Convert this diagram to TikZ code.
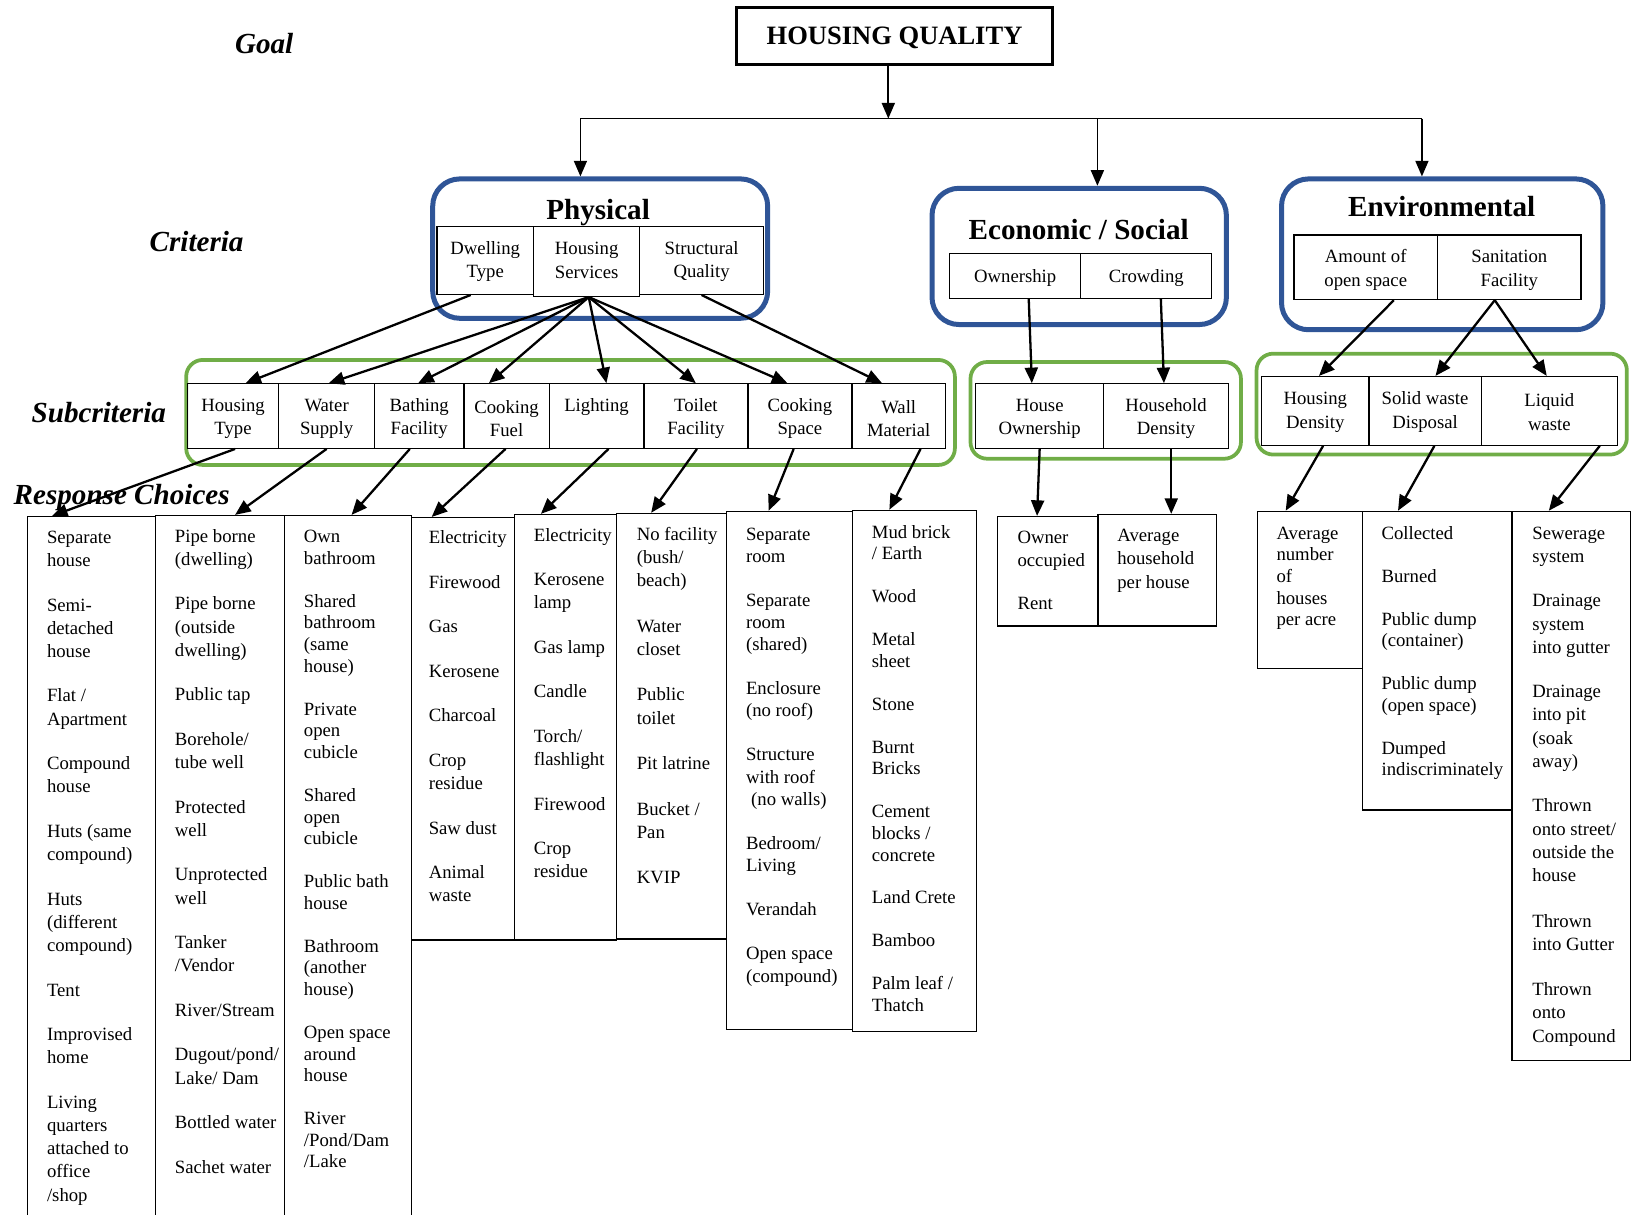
\documentclass[tikz,border=0pt]{standalone}
\usepackage{fontspec}
\setmainfont{Liberation Serif}
\usetikzlibrary{arrows.meta}

\definecolor{critblue}{RGB}{47,85,151}
\definecolor{subgreen}{RGB}{112,173,71}

\begin{document}
\begin{tikzpicture}[x=1pt,y=-1pt,
  every node/.style={inner sep=0pt},
  body/.style={font=\fontsize{18}{22.3}\selectfont},
  tight/.style={font=\fontsize{18}{20.8}\selectfont},
  level/.style={font=\fontsize{28}{32}\selectfont\bfseries\itshape},
  group/.style={font=\fontsize{28}{32}\selectfont\bfseries},
  critbox/.style={draw=critblue, line width=4.8pt, rounded corners=26pt},
  subbox/.style={draw=subgreen, line width=3.6pt, rounded corners=16pt},
  cell/.style={body, draw, line width=1.2pt, align=center, text height=40pt},
  rbox/.style={draw, line width=1.3pt, anchor=north west},
  rtext/.style={body, align=left, anchor=north west},
  arr/.style={-{Triangle[length=15pt,width=12.5pt]}, line width=2.2pt},
]
  \useasboundingbox (0,0) rectangle (1568,1168);

  % Level labels on the left
  \node[level] (lgoal) at (254,42) {Goal};
  \node[level] (lcrit) at (189,232) {Criteria};
  \node[level] (lsub) at (95,397) {Subcriteria};
  \node[level] (lresp) at (117,478) {Response Choices};

  % Goal box and bus line
  \node[draw, line width=3.2pt, minimum width=304pt, minimum height=55pt, text height=21pt,
    font=\fontsize{25.5}{30}\selectfont\bfseries] (goal) at (860,34.5) {HOUSING QUALITY};
  \coordinate (bus) at (854,114);
  \coordinate (busP) at (558,114);
  \coordinate (busE) at (1055,114);
  \coordinate (busV) at (1367,114);
  \draw[arr, line width=1.6pt] (goal.south -| bus) -- (bus);
  \draw[line width=1.6pt] (busP) -- (busV);

  % Criteria: Physical
  \node[critbox, minimum width=322pt, minimum height=134pt] (phys) at (577,239) {};
  \node[group] (physT) at (575,204) {Physical};
  \node[cell, text height=37pt, minimum width=93pt, minimum height=65pt] (dt) at (466.5,250.5) {Dwelling\\Type};
  \node[cell, text height=32pt, minimum width=102pt, minimum height=67pt] (hs) at (564,251.5) {Housing\\Services};
  \node[cell, text height=37pt, minimum width=119pt, minimum height=65pt] (sq) at (674.5,250.5) {Structural\\Quality};

  % Criteria: Economic / Social
  \node[critbox, minimum width=283pt, minimum height=131pt] (econ) at (1037.5,246.5) {};
  \node[group] (econT) at (1037,220.5) {Economic / Social};
  \node[cell, text height=16.5pt, minimum width=126pt, minimum height=43pt] (ow) at (976,265.5) {Ownership};
  \node[cell, text height=16.5pt, minimum width=126pt, minimum height=43pt] (cr) at (1102,265.5) {Crowding};

  % Criteria: Environmental
  \node[critbox, minimum width=309pt, minimum height=145pt] (env) at (1386.5,244.5) {};
  \node[group] (envT) at (1386,198.5) {Environmental};
  \node[cell, minimum width=138pt, minimum height=62pt] (ao) at (1313,257) {Amount of\\open space};
  \node[cell, minimum width=138pt, minimum height=62pt] (sf) at (1451,257) {Sanitation\\Facility};

  \draw[arr, line width=1.6pt] (busP) -- (busP |- phys.north);
  \draw[arr, line width=1.6pt] (busE) -- (busE |- econ.north);
  \draw[arr, line width=1.6pt] (busV) -- (busV |- env.north);

  % Subcriteria groups
  \node[subbox, minimum width=739pt, minimum height=101pt] (g1) at (548.5,396.5) {};
  \node[subbox, minimum width=260pt, minimum height=93pt] (g2) at (1063,394.5) {};
  \node[subbox, minimum width=356pt, minimum height=97pt] (g3) at (1386,388.5) {};

  \node[cell, minimum width=88pt, minimum height=62pt] (st1) at (224,400) {Housing\\Type};
  \node[cell, minimum width=92pt, minimum height=62pt] (st2) at (314,400) {Water\\Supply};
  \node[cell, minimum width=86pt, minimum height=62pt] (st3) at (403,400) {Bathing\\Facility};
  \node[cell, minimum width=82pt, minimum height=62pt] (st4) at (487,400) {Cooking\\Fuel};
  \node[cell, text height=36pt, minimum width=91pt, minimum height=62pt] (st5) at (573.5,400) {Lighting\\\phantom{X}};
  \node[cell, minimum width=100pt, minimum height=62pt] (st6) at (669,400) {Toilet\\Facility};
  \node[cell, minimum width=100pt, minimum height=62pt] (st7) at (769,400) {Cooking\\Space};
  \node[cell, minimum width=90pt, minimum height=62pt] (st8) at (864,400) {Wall\\Material};

  \node[cell, minimum width=123pt, minimum height=62pt] (ho) at (999.5,400) {House\\Ownership};
  \node[cell, minimum width=120pt, minimum height=62pt] (hd) at (1121,400) {Household\\Density};

  \node[cell, text height=37pt, minimum width=103pt, minimum height=66pt] (hdn) at (1264.5,395) {Housing\\Density};
  \node[cell, text height=37pt, minimum width=108pt, minimum height=66pt] (sw) at (1370,395) {Solid waste\\Disposal};
  \node[cell, text height=37pt, minimum width=131pt, minimum height=66pt] (lw) at (1489.5,395) {Liquid\\waste};

  % Criteria to subcriteria
  \draw[arr] ([xshift=-14pt]dt.south) -- ([xshift=12pt]st1.north);
  \foreach \t/\d in {st2/2, st3/-1, st4/-17, st5/9.5, st6/0, st7/-12}
    \draw[arr] ([xshift=2pt]hs.south) -- ([xshift=\d pt]\t.north);
  \draw[arr] (sq.south) -- ([xshift=-16pt]st8.north);
  \draw[arr] ([xshift=13pt]ow.south) -- ([xshift=-7.5pt]ho.north);
  \draw[arr] ([xshift=14pt]cr.south) -- ([xshift=-2pt]hd.north);
  \draw[arr] ([xshift=27pt]ao.south) -- ([xshift=3.5pt]hdn.north);
  \draw[arr] ([xshift=-14pt]sf.south) -- ([xshift=10pt]sw.north);
  \draw[arr] ([xshift=-14pt]sf.south) -- ([xshift=-2.5pt]lw.north);

  % Response choice boxes
  \node[rbox, minimum width=123pt, minimum height=700pt] (rc1) at (26,496) {};
  \node[rbox, minimum width=124pt, minimum height=700pt] (rc2) at (149,495) {};
  \node[rbox, minimum width=122pt, minimum height=700pt] (rc3) at (273,495) {};
  \node[rbox, minimum width=99pt, minimum height=406pt] (rc4) at (395,497) {};
  \node[rbox, minimum width=98pt, minimum height=409pt] (rc5) at (494,494) {};
  \node[rbox, minimum width=106pt, minimum height=409pt] (rc6) at (592,493) {};
  \node[rbox, minimum width=121pt, minimum height=498pt] (rc7) at (698,491) {};
  \node[rbox, minimum width=119pt, minimum height=501pt] (rc8) at (819,490) {};
  \node[rbox, minimum width=97pt, minimum height=105pt] (rc9) at (958,496) {};
  \node[rbox, minimum width=114pt, minimum height=107pt] (rc10) at (1055,494) {};
  \node[rbox, minimum width=101pt, minimum height=151pt] (rc11) at (1208,491) {};
  \node[rbox, minimum width=144pt, minimum height=287pt] (rc12) at (1309,491) {};
  \node[rbox, minimum width=114pt, minimum height=528pt] (rc13) at (1453,491) {};

  % Response choice texts
  \node[rtext] (rc1t) at ([xshift=19pt,yshift=-10.5pt]rc1.north west)
    {\strut Separate\\house\\[20.5pt]Semi-\\detached\\house\\[20.5pt]Flat /\\Apartment\\[20.5pt]Compound\\house\\[20.5pt]Huts (same\\compound)\\[20.5pt]Huts\\(different\\compound)\\[20.5pt]Tent\\[20.5pt]Improvised\\home\\[20.5pt]Living\\quarters\\attached to\\office\\/shop};
  \node[rtext] (rc2t) at ([xshift=19pt,yshift=-10.5pt]rc2.north west)
    {\strut Pipe borne\\(dwelling)\\[20.5pt]Pipe borne\\(outside\\dwelling)\\[20.5pt]Public tap\\[20.5pt]Borehole/\\tube well\\[20.5pt]Protected\\well\\[20.5pt]Unprotected\\well\\[20.5pt]Tanker\\/Vendor\\[20.5pt]River/Stream\\[20.5pt]Dugout/pond/\\Lake/ Dam\\[20.5pt]Bottled water\\[20.5pt]Sachet water};
  \node[rtext, tight] (rc3t) at ([xshift=19pt,yshift=-12pt]rc3.north west)
    {\strut Own\\bathroom\\[20.5pt]Shared\\bathroom\\(same\\house)\\[20.5pt]Private\\open\\cubicle\\[20.5pt]Shared\\open\\cubicle\\[20.5pt]Public bath\\house\\[20.5pt]Bathroom\\(another\\house)\\[20.5pt]Open space\\around\\house\\[20.5pt]River\\/Pond/Dam\\/Lake};
  \node[rtext] (rc4t) at ([xshift=17pt,yshift=-10pt]rc4.north west)
    {\strut Electricity\\[20.5pt]Firewood\\[20.5pt]Gas\\[20.5pt]Kerosene\\[20.5pt]Charcoal\\[20.5pt]Crop\\residue\\[20.5pt]Saw dust\\[20.5pt]Animal\\waste};
  \node[rtext] (rc5t) at ([xshift=19pt,yshift=-10.5pt]rc5.north west)
    {\strut Electricity\\[20.5pt]Kerosene\\lamp\\[20.5pt]Gas lamp\\[20.5pt]Candle\\[20.5pt]Torch/\\flashlight\\[20.5pt]Firewood\\[20.5pt]Crop\\residue};
  \node[rtext] (rc6t) at ([xshift=20pt,yshift=-10.5pt]rc6.north west)
    {\strut No facility\\(bush/\\beach)\\[21.5pt]Water\\closet\\[21.5pt]Public\\toilet\\[21.5pt]Pit latrine\\[21.5pt]Bucket /\\Pan\\[21.5pt]KVIP};
  \node[rtext, font=\fontsize{18}{21.5}\selectfont] (rc7t) at ([xshift=19pt,yshift=-13pt]rc7.north west)
    {\strut Separate\\room\\[20.5pt]Separate\\room\\(shared)\\[20.5pt]Enclosure\\(no roof)\\[20.5pt]Structure\\with roof\\\hspace*{5pt}(no walls)\\[20.5pt]Bedroom/\\Living\\[20.5pt]Verandah\\[21.5pt]Open space\\(compound)};
  \node[rtext, tight] (rc8t) at ([xshift=19pt,yshift=-12.5pt]rc8.north west)
    {\strut Mud brick\\/ Earth\\[20.5pt]Wood\\[20.5pt]Metal\\sheet\\[20.5pt]Stone\\[20.5pt]Burnt\\Bricks\\[20.5pt]Cement\\blocks /\\concrete\\[20.5pt]Land Crete\\[20.5pt]Bamboo\\[20.5pt]Palm leaf /\\Thatch};
  \node[rtext] (rc9t) at ([xshift=20pt,yshift=-10.5pt]rc9.north west)
    {\strut Owner\\occupied\\[19pt]Rent};
  \node[rtext] (rc10t) at ([xshift=19pt,yshift=-11pt]rc10.north west)
    {\strut Average\\household\\per house};
  \node[rtext, tight] (rc11t) at ([xshift=19pt,yshift=-12.5pt]rc11.north west)
    {\strut Average\\number\\of\\houses\\per acre};
  \node[rtext, tight] (rc12t) at ([xshift=19pt,yshift=-12.5pt]rc12.north west)
    {\strut Collected\\[20.5pt]Burned\\[20.5pt]Public dump\\(container)\\[20.5pt]Public dump\\(open space)\\[20.5pt]Dumped\\indiscriminately};
  \node[rtext] (rc13t) at ([xshift=20pt,yshift=-11.5pt]rc13.north west)
    {\strut Sewerage\\system\\[20.5pt]Drainage\\system\\into gutter\\[20.5pt]Drainage\\into pit\\(soak\\away)\\[20.5pt]Thrown\\onto street/\\outside the\\house\\[21.5pt]Thrown\\into Gutter\\[21.5pt]Thrown\\onto\\Compound};

  % Subcriteria to response choices
  \foreach \s/\a/\r/\b in {st1/2/rc1/24, st2/0/rc2/77, st3/-9/rc3/65, st4/-1/rc4/20,
      st5/11.5/rc5/26, st6/1/rc6/34, st7/-6/rc7/41, st8/21/rc8/36, ho/0/rc9/39,
      hd/5/rc10/71, hdn/7.5/rc11/28, sw/9/rc12/35, lw/48.5/rc13/36}
    \draw[arr] ([xshift=\a pt]\s.south) -- ([xshift=\b pt]\r.north west);
\end{tikzpicture}
\end{document}
